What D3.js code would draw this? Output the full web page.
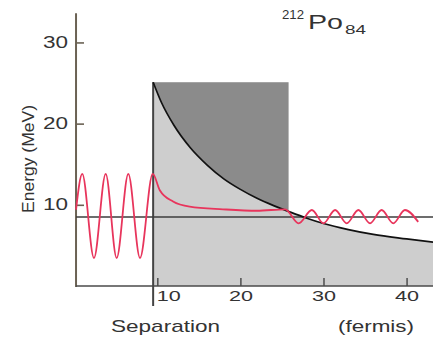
<!DOCTYPE html>
<html><head><meta charset="utf-8">
<script src="https://cdn.jsdelivr.net/npm/d3@7"></script>
<style>
body{margin:0;background:#fff}
svg{display:block}
text{font-family:"Liberation Sans",Arial,Helvetica,sans-serif;fill:#333}
</style>
</head><body>
<svg id="c" width="433" height="340"></svg>
<script>
// ---- data ----
const xTicks = [10, 20, 30, 40];
const yTicks = [10, 20, 30];
const xLabel = "Separation";
const xUnit = "(fermis)";
const yLabel = "Energy (MeV)";
const nucleusRadius = 9.5;     // fm, edge of nucleus
const barrierTop = 25.1;       // MeV
const barrierEdge = 25.8;      // fm, classical turning point
const alphaEnergy = 8.5;       // MeV
// Coulomb barrier curve
const coulombR = [9.5, 10.5, 12, 14, 16, 18, 20, 22, 24, 26, 28, 30, 33, 36, 40, 44];
const coulombE = [25.1, 22.6, 19.8, 17.0, 14.9, 13.2, 11.9, 10.8, 9.9, 9.1, 8.35, 7.7, 6.95, 6.35, 5.8, 5.3];
// alpha wave function (red)
const waveR = [0.22, 0.97, 2.38, 3.79, 5.11, 6.51, 7.92, 9.45, 10.3, 11.9, 13.9, 17.9, 22.0, 25.4, 27.0, 28.6, 30.0, 31.4, 32.8, 34.2, 35.6, 37.0, 38.4, 39.8, 41.4];
const waveE = [9.4, 13.8, 3.45, 13.8, 3.45, 13.8, 3.45, 13.8, 11.8, 10.4, 9.77, 9.45, 9.27, 9.45, 7.72, 9.36, 7.72, 9.36, 7.72, 9.36, 7.72, 9.36, 7.72, 9.36, 7.9];

// ---- drawing ----
const svg = d3.select("#c");
const x = d3.scaleLinear().domain([0, 43.3]).range([74.2, 434]);
const y = d3.scaleLinear().domain([0, 33.7]).range([286, 12.4]);
const axisX0 = x(0.22);

const coulomb = coulombR.map((r, i) => ({r, e: coulombE[i]}));
const wave = waveR.map((r, i) => ({r, e: waveE[i]}));

// dark barrier rectangle
svg.append("rect")
  .attr("x", x(nucleusRadius)).attr("y", y(barrierTop))
  .attr("width", x(barrierEdge) - x(nucleusRadius))
  .attr("height", y(0) - y(barrierTop))
  .attr("fill", "#8b8b8b");

// light area under Coulomb curve
svg.append("path")
  .datum(coulomb)
  .attr("fill", "#cecece")
  .attr("d", d3.area().x(d => x(d.r)).y0(y(0)).y1(d => y(d.e)).curve(d3.curveMonotoneX));

// Y axis
const gy = svg.append("g").attr("transform", `translate(${axisX0},0)`)
  .call(d3.axisLeft(y).tickValues(yTicks).tickSize(-8).tickPadding(8).tickFormat(d3.format("d")));
gy.select(".domain").remove();
gy.selectAll(".tick line").attr("stroke", "#6b6254").attr("stroke-width", 1.6);
gy.selectAll(".tick text").attr("font-size", 16).attr("fill", "#3a3a3a")
  .attr("textLength", 25).attr("lengthAdjust", "spacingAndGlyphs")
  .attr("font-family", null);
svg.append("line").attr("x1", axisX0).attr("x2", axisX0).attr("y1", y(33.6)).attr("y2", y(0) + 1)
  .attr("stroke", "#6b6254").attr("stroke-width", 2);

// X axis
const gx = svg.append("g").attr("transform", `translate(0,${y(0)})`)
  .call(d3.axisBottom(x).tickValues(xTicks).tickSize(-8).tickPadding(4).tickFormat(d3.format("d")));
gx.select(".domain").remove();
gx.selectAll(".tick line").attr("stroke", "#555").attr("stroke-width", 1.6);
gx.selectAll(".tick text").attr("font-size", 15).attr("fill", "#3a3a3a")
  .attr("textLength", 24).attr("lengthAdjust", "spacingAndGlyphs")
  .attr("font-family", null)
  .attr("dx", d => d === 10 ? 11 : 0);
svg.append("line").attr("x1", axisX0).attr("x2", 433).attr("y1", y(0)).attr("y2", y(0))
  .attr("stroke", "#4a4a4a").attr("stroke-width", 1.5);

// nucleus edge vertical line
svg.append("line").attr("x1", x(nucleusRadius)).attr("x2", x(nucleusRadius))
  .attr("y1", y(barrierTop)).attr("y2", y(0) + 20)
  .attr("stroke", "#444").attr("stroke-width", 2);

// alpha energy level
svg.append("line").attr("x1", axisX0).attr("x2", 433).attr("y1", y(alphaEnergy)).attr("y2", y(alphaEnergy))
  .attr("stroke", "#3d3d3d").attr("stroke-width", 1.3);

// Coulomb curve
svg.append("path").datum(coulomb)
  .attr("fill", "none").attr("stroke", "#111").attr("stroke-width", 1.7)
  .attr("d", d3.line().x(d => x(d.r)).y(d => y(d.e)).curve(d3.curveMonotoneX));

// wave
svg.append("path").datum(wave)
  .attr("fill", "none").attr("stroke", "#e8355c").attr("stroke-width", 1.8)
  .attr("d", d3.line().x(d => x(d.r)).y(d => y(d.e)).curve(d3.curveMonotoneX));

// labels
svg.append("text").attr("x", 111).attr("y", 332).attr("font-size", 17)
  .attr("textLength", 109).attr("lengthAdjust", "spacingAndGlyphs").text(xLabel);
svg.append("text").attr("x", 338).attr("y", 332).attr("font-size", 17)
  .attr("textLength", 76).attr("lengthAdjust", "spacingAndGlyphs").text(xUnit);
svg.append("text").attr("transform", "translate(34,159) rotate(-90)")
  .attr("text-anchor", "middle").attr("font-size", 16)
  .attr("textLength", 108).attr("lengthAdjust", "spacingAndGlyphs").text(yLabel);

// title 212Po84
const t = svg.append("g");
t.append("text").attr("x", 282).attr("y", 18.5).attr("font-size", 12)
  .attr("textLength", 22).attr("lengthAdjust", "spacingAndGlyphs").text("212");
t.append("text").attr("x", 308).attr("y", 28.5).attr("font-size", 20)
  .attr("textLength", 35).attr("lengthAdjust", "spacingAndGlyphs").text("Po");
t.append("text").attr("x", 345).attr("y", 34).attr("font-size", 13)
  .attr("textLength", 21).attr("lengthAdjust", "spacingAndGlyphs").text("84");
</script>
</body></html>
